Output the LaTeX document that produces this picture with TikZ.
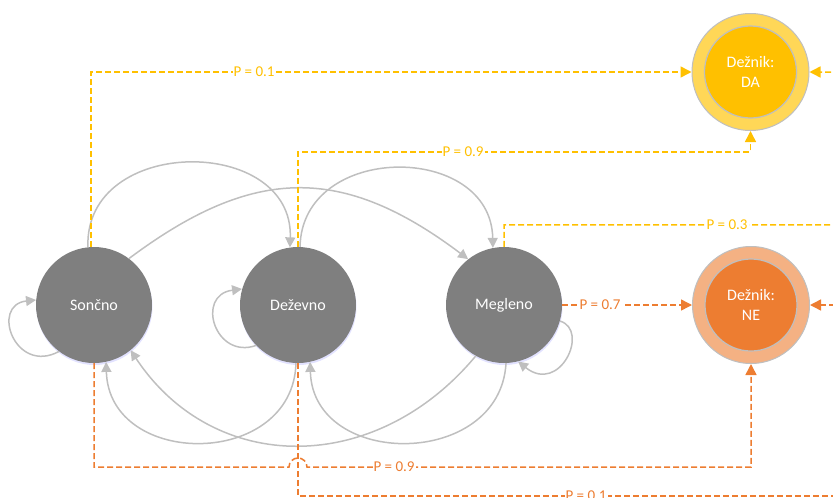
\documentclass[tikz,border=0pt]{standalone}
\usepackage{fontspec}
\setmainfont{Carlito}
\usetikzlibrary{arrows.meta,shadows}
\definecolor{stategray}{HTML}{7F7F7F}
\definecolor{linegray}{HTML}{BFBFBF}
\definecolor{dayellow}{HTML}{FFC000}
\definecolor{dalight}{HTML}{FFD757}
\definecolor{neorange}{HTML}{ED7D31}
\definecolor{nelight}{HTML}{F4B183}

\begin{document}
\begin{tikzpicture}[
    x=1pt, y=-1pt,
    state/.style={circle, fill=stategray, text=white, minimum size=116pt, inner sep=0pt,
        font=\fontsize{16}{20}\selectfont,
        drop shadow={shadow xshift=0.5pt, shadow yshift=-2pt, fill=blue!25!white, opacity=0.45}},
    outcome/.style 2 args={circle, draw=linegray, line width=1pt, fill=#1,
        minimum size=117pt, inner sep=0pt, text=white, align=center,
        font=\fontsize{16}{20}\selectfont,
        path picture={\draw[linegray, line width=1.2pt, fill=#2]
            (path picture bounding box.center) circle (46pt);}},
    move/.style={draw=linegray, line width=1.5pt, -{Triangle[length=10pt, width=10pt]}},
    yesline/.style={draw=dayellow, line width=1.5pt, dash pattern=on 6pt off 3pt,
        -{Triangle[length=11pt, width=11pt]}},
    noline/.style={draw=neorange, line width=1.5pt, dash pattern=on 6pt off 3pt,
        -{Triangle[length=11pt, width=11pt]}},
    prob/.style={fill=white, inner sep=1pt, font=\fontsize{15}{18}\selectfont}
]
\useasboundingbox (0,0) rectangle (833,498);
\clip (0,0) rectangle (833,498);

% weather states
\node[state] (son) at (94,305) {Sončno};
\node[state] (dez) at (298,305) {Deževno};
\node[state] (meg) at (504,305) {Megleno};

% umbrella outcomes
\node[outcome={dalight}{dayellow}] (da) at (750.5,72) {Dežnik:\\DA};
\node[outcome={nelight}{neorange}] (ne) at (751,305) {Dežnik:\\NE};

% self loops
\draw[move] (son.233) .. controls (15,375) and (-10,305) .. (son.175);
\draw[move] (dez.224) .. controls (215,360) and (195,295) .. (dez.164);
\draw[move] (meg.344) .. controls (590,330) and (560,395) .. (meg.284);

% transitions over the top
\draw[move] (son.96) .. controls (84,135) and (294,135) .. (dez.98);
\draw[move] (son.53) .. controls (254,165) and (343,165) .. (meg.128);
\draw[move] (dez.88) .. controls (302,142) and (491,142) .. (meg.101);

% transitions underneath
\draw[move] (dez.268) .. controls (293,469) and (109,469) .. (son.282);
\draw[move] (meg.241) .. controls (376,476) and (214,476) .. (son.309);
\draw[move] (meg.272) .. controls (500,469) and (313,469) .. (dez.282);

% emissions: umbrella yes
\draw[yesline] (son.93) |- (da.west);
\draw[yesline] (dez.90) -- ++(0,-95) -| (da.south);
\draw[yesline] (meg.90) -- ++(0,-22) -- (850,225) |- (da.east);

% emissions: umbrella no
\draw[noline] (meg.east) -- (ne.west);
\draw[noline] (son.270) |- (289,467) arc[start angle=180, end angle=360, radius=9] -| (ne.south);
\draw[noline] (dez.270) |- (850,496) |- (ne.east);

% probabilities
\node[prob, text=dayellow] (pson) at (254,72) {P = 0.1};
\node[prob, text=dayellow] (pdez) at (463,152) {P = 0.9};
\node[prob, text=dayellow] (pmeg) at (727,225) {P = 0.3};
\node[prob, text=neorange] (qmeg) at (600,305) {P = 0.7};
\node[prob, text=neorange] (qson) at (394,467) {P = 0.9};
\node[prob, text=neorange] (qdez) at (586,496) {P = 0.1};

\end{tikzpicture}
\end{document}
